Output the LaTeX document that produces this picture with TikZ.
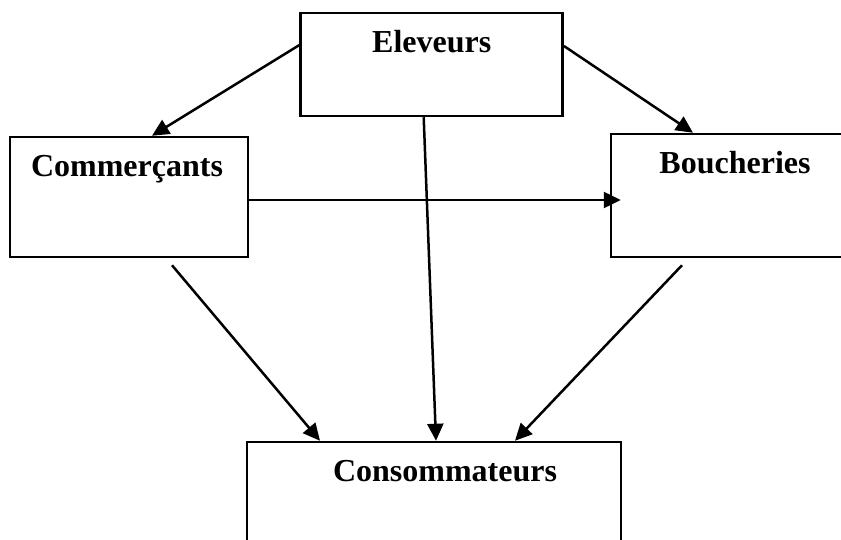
\documentclass[tikz,border=0pt]{standalone}
\usepackage{fontspec}
\setmainfont{Liberation Serif}
\usetikzlibrary{arrows.meta}

\begin{document}
\begin{tikzpicture}[->,>={Triangle[length=17pt,width=16pt]},line width=2.5pt,
		x=1pt,y=-1pt]
		\tikzstyle{box}=[draw,rectangle,inner sep=0pt]
		\tikzstyle{lbl}=[anchor=base,yshift=-41pt,font=\fontsize{32}{38}\selectfont\bfseries]
		\useasboundingbox (0,0) rectangle (841,540);
		\clip (0,0) rectangle (841,540);
		\node[box,minimum width=262pt,minimum height=103pt,label={[lbl]north:Eleveurs}] (ele) at (431.7,64.5) {};
		\node[box,minimum width=238pt,minimum height=120pt,label={[lbl,xshift=-2pt]north:Commerçants}] (com) at (129,197) {};
		\node[box,minimum width=248pt,minimum height=123pt,label={[lbl]north:Boucheries}] (bou) at (735,195.5) {};
		\node[box,minimum width=374pt,minimum height=120pt,label={[lbl,xshift=11pt]north:Consommateurs}] (con) at (434,502) {};

		\path 	([yshift=19.5pt]ele.west)           edge ([xshift=23pt]com.north)
				([yshift=18.5pt]ele.east)           edge ([xshift=-42pt]bou.north)
				([xshift=-8pt]ele.south)            edge ([xshift=2pt]con.north)
				([yshift=-3pt]com.east)             edge ([xshift=11pt,yshift=-4.5pt]bou.west)
				([xshift=43pt,yshift=-7pt]com.south) edge ([xshift=-114pt]con.north)
				([xshift=-53pt,yshift=-7pt]bou.south) edge ([xshift=81pt]con.north);
	\end{tikzpicture}
\end{document}
